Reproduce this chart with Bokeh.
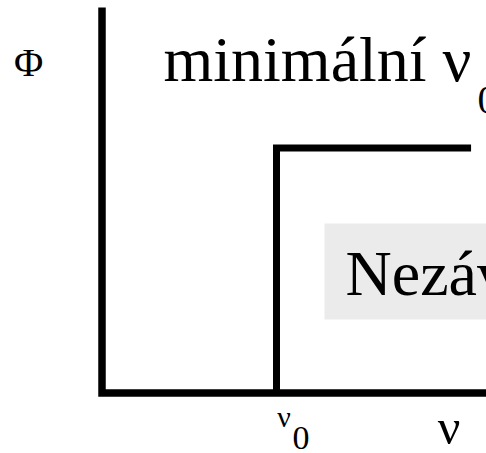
from bokeh.plotting import figure
from bokeh.models import Range1d, BoxAnnotation
from bokeh.core.properties import value
from bokeh.embed import file_html
from bokeh.resources import INLINE

# ---- data ----
axis_nu = [0.0, 0.0, 2.3]
axis_phi = [1.573, 0.0, 0.0]
step_nu = [1.0, 1.0, 2.115]
step_phi = [0.0, 1.0, 1.0]
y_label = ["Φ"]
x_label = ["ν"]
tick_label = ["ν", "0"]
title_text = ["minimální ν", "0"]
note_text = ["Nezávislé na intenzitě"]

# ---- layout ----
W, H = 486, 453
PX_X, PX_Y = 174.5, 245.0
X0, Y0 = 101.5, 392.5
x_start, x_end = -X0 / PX_X, (W - X0) / PX_X
y_start, y_end = -(H - Y0) / PX_Y, Y0 / PX_Y

SHIFT = 0.37  # baseline compensation (em)

def py(page_y):
    return (Y0 - page_y) / PX_Y

def px(page_x):
    return (page_x - X0) / PX_X

def pb(baseline, size):
    return py(baseline - SHIFT * size)

p = figure(width=W, height=H, output_backend="svg", toolbar_location=None,
           x_range=Range1d(x_start, x_end), y_range=Range1d(y_start, y_end),
           x_axis_type=None, y_axis_type=None, min_border=0,
           outline_line_color=None, background_fill_color="white",
           border_fill_color="white")
p.grid.visible = False

FONT = value("Liberation Serif")

box = BoxAnnotation(left=px(324), right=x_end + 1, bottom=py(319), top=py(223),
                    fill_color="#ebebeb", fill_alpha=1.0, line_color=None, level="underlay")
p.add_layout(box)

p.line(axis_nu, axis_phi, line_color="black", line_width=7.5, line_join="miter", line_cap="butt")
p.line(step_nu, step_phi, line_color="black", line_width=7, line_join="miter", line_cap="butt")

def txt(x, y, s, size, align="left", baseline="alphabetic"):
    p.text(x=[x], y=[y], text=[s], text_font=FONT, text_font_size=f"{size}px",
           text_baseline=baseline, text_align=align, text_color="black")

txt(px(163), pb(83, 64), title_text[0], 64)
txt(px(477), pb(114, 40), title_text[1], 40)
txt(px(345), pb(297, 64), note_text[0], 64)
txt(px(28), py(62), y_label[0], 40, align="center", baseline="middle")
txt(px(283.5), pb(427, 30), tick_label[0], 30, align="center")
txt(px(292), pb(450, 34), tick_label[1], 34)
txt(px(448.5), pb(445, 50), x_label[0], 50, align="center")

open("out.html", "w").write(file_html(p, INLINE))
